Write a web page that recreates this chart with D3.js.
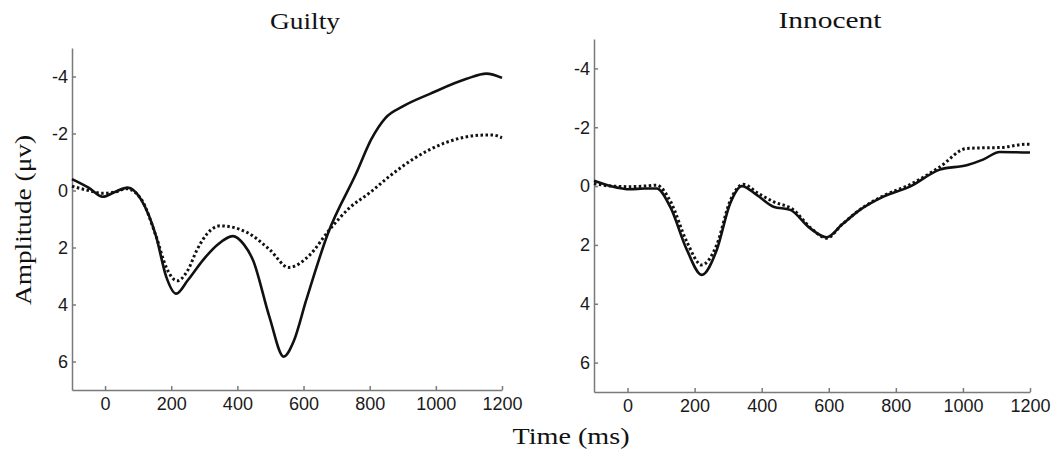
<!DOCTYPE html>
<html>
<head>
<meta charset="utf-8">
<script src="https://cdn.jsdelivr.net/npm/d3@7"></script>
<style>
  body { margin: 0; background: #fff; }
  .tick text { font-family: "Liberation Sans", Arial, sans-serif; font-size: 18px; fill: #1a1a1a; }
  .axis path, .axis line { stroke: #7a7a7a; stroke-width: 1.5px; }
  .ttl { font-family: "Liberation Serif", "Times New Roman", serif; font-size: 23px; fill: #111; }
</style>
</head>
<body>
<div id="chart"></div>
<script>
// ERP data: [time ms, amplitude µV]
var guiltySolid = [[-100,-0.4],[-50,-0.1],[-7,0.22],[30,0.05],[68,-0.1],[109,0.32],[154,1.6],[185,3.03],[215,3.62],[250,3.15],[296,2.44],[340,1.9],[386,1.6],[420,1.9],[447,2.44],[497,4.44],[540,5.83],[570,5.3],[608,3.85],[674,1.5],[760,-0.62],[805,-1.8],[848,-2.55],[900,-2.95],[982,-3.39],[1093,-3.92],[1153,-4.1],[1200,-3.95]];
var guiltyDotted = [[-100,-0.15],[-50,0.0],[-7,0.1],[30,0.05],[66,-0.06],[109,0.3],[154,1.6],[185,2.7],[218,3.17],[250,2.8],[278,2.08],[310,1.5],[348,1.24],[429,1.47],[498,2.08],[555,2.7],[619,2.26],[674,1.44],[740,0.6],[800,0.08],[860,-0.5],[931,-1.1],[1032,-1.69],[1133,-1.94],[1170,-1.95],[1200,-1.85]];
var innocentSolid = [[-100,-0.18],[-50,0.0],[8,0.11],[50,0.08],[87,0.08],[127,0.7],[177,2.17],[221,3.02],[266,2.17],[306,0.59],[341,0.0],[385,0.3],[435,0.7],[485,0.81],[544,1.43],[594,1.74],[640,1.3],[693,0.81],[763,0.36],[842,0.02],[931,-0.56],[1011,-0.71],[1060,-0.9],[1110,-1.16],[1200,-1.14]];
var innocentDotted = [[-100,-0.09],[-50,0.0],[8,0.02],[50,0.0],[87,-0.03],[127,0.5],[177,1.9],[221,2.68],[266,2.0],[306,0.5],[345,-0.06],[390,0.25],[435,0.53],[495,0.81],[544,1.4],[594,1.77],[640,1.3],[693,0.8],[763,0.33],[842,-0.05],[931,-0.65],[1011,-1.28],[1060,-1.3],[1110,-1.31],[1189,-1.42],[1200,-1.42]];

var xTicks = [0, 200, 400, 600, 800, 1000, 1200];
var yTicks = [-4, -2, 0, 2, 4, 6];
var titles = ["Guilty", "Innocent"];

var width = 1052, height = 458;

var svg = d3.select("#chart").append("svg")
    .attr("width", width)
    .attr("height", height);

var plain = function(d) { return String(d); };  // keep "-4" and "1000" as printed

var panels = [
  {title: titles[0], solid: guiltySolid, dotted: guiltyDotted, x0: 72, x1: 502, y0: 48, y1: 390, tx: 305, ty: 29, tw: 70},
  {title: titles[1], solid: innocentSolid, dotted: innocentDotted, x0: 594, x1: 1030, y0: 39, y1: 392, tx: 830, ty: 28, tw: 103}
];

panels.forEach(function(p) {
  var x = d3.scaleLinear().domain([-100, 1200]).range([p.x0, p.x1]);
  var y = d3.scaleLinear().domain([-5, 7]).range([p.y0, p.y1]);

  svg.append("g")
      .attr("class", "axis")
      .attr("transform", "translate(0," + p.y1 + ")")
      .call(d3.axisBottom(x).tickValues(xTicks).tickFormat(plain).tickSize(-4).tickSizeOuter(0).tickPadding(7));

  svg.append("g")
      .attr("class", "axis")
      .attr("transform", "translate(" + p.x0 + ",0)")
      .call(d3.axisLeft(y).tickValues(yTicks).tickFormat(plain).tickSize(-4).tickSizeOuter(0).tickPadding(4));

  var line = d3.line()
      .x(function(d) { return x(d[0]); })
      .y(function(d) { return y(d[1]); })
      .curve(d3.curveMonotoneX);

  svg.append("path")
      .datum(p.dotted)
      .attr("d", line)
      .attr("fill", "none")
      .attr("stroke", "#111")
      .attr("stroke-width", 3)
      .attr("stroke-dasharray", "2.5,2.5");

  svg.append("path")
      .datum(p.solid)
      .attr("d", line)
      .attr("fill", "none")
      .attr("stroke", "#111")
      .attr("stroke-width", 2.6);

  svg.append("text")
      .attr("class", "ttl")
      .attr("x", p.tx)
      .attr("y", p.ty)
      .attr("text-anchor", "middle")
      .attr("textLength", p.tw)
      .attr("lengthAdjust", "spacingAndGlyphs")
      .text(p.title);
});

svg.append("text")
    .attr("class", "ttl")
    .attr("transform", "translate(31,220) rotate(-90)")
    .attr("text-anchor", "middle")
    .attr("textLength", 170)
    .attr("lengthAdjust", "spacingAndGlyphs")
    .text("Amplitude (μv)");

svg.append("text")
    .attr("class", "ttl")
    .attr("x", 571)
    .attr("y", 444)
    .attr("text-anchor", "middle")
    .attr("textLength", 117)
    .attr("lengthAdjust", "spacingAndGlyphs")
    .text("Time (ms)");
</script>
</body>
</html>
